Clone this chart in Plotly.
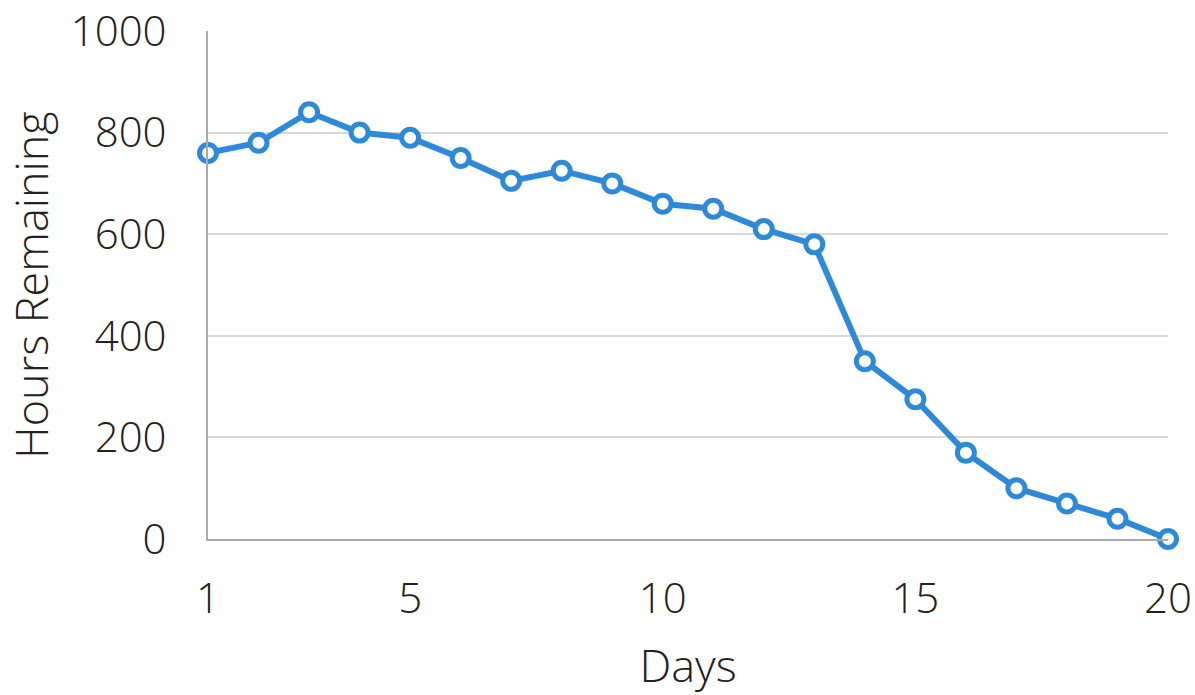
import plotly.graph_objects as go

days = list(range(1, 21))
hours = [760, 780, 840, 800, 790, 750, 705, 725, 700, 660, 650, 610, 580, 350, 275, 170, 100, 70, 40, 0]
x_ticks = [1, 5, 10, 15, 20]
y_ticks = [0, 200, 400, 600, 800, 1000]

blue = "#2f89d9"
tick_font = dict(family="Open Sans", size=42, color="#222222", weight=300)
title_font = dict(family="Open Sans", size=45, color="#222222", weight=300)

fig = go.Figure()
fig.add_trace(go.Scatter(
    x=days, y=hours, mode="lines+markers",
    line=dict(color=blue, width=6),
    marker=dict(size=17, color="white", line=dict(color=blue, width=5)),
    cliponaxis=False,
))

fig.update_layout(
    width=1195, height=695,
    margin=dict(l=208, r=27, t=31, b=156),
    paper_bgcolor="white", plot_bgcolor="white",
    showlegend=False,
    font=tick_font,
)
fig.update_xaxes(
    range=[1, 20], tickvals=x_ticks, ticktext=[str(v) for v in x_ticks],
    showgrid=False, zeroline=False, automargin=False,
    showline=True, linecolor="#aaaaaa", linewidth=2,
    ticks="outside", ticklen=22, tickcolor="rgba(0,0,0,0)",
    tickfont=tick_font,
    title=dict(text="Days", font=title_font, standoff=26),
)
fig.update_yaxes(
    range=[0, 1000], tickvals=y_ticks, ticktext=[str(v) for v in y_ticks],
    showgrid=True, gridcolor="#d9d9d9", gridwidth=2, zeroline=False, automargin=False,
    showline=True, linecolor="#aaaaaa", linewidth=2,
    ticks="outside", ticklen=31, tickcolor="rgba(0,0,0,0)",
    tickfont=tick_font,
    title=dict(text="Hours Remaining", font=title_font, standoff=16),
)

fig.write_html("out.html", config={"displayModeBar": False},
               post_script="document.body.style.margin='0';")
